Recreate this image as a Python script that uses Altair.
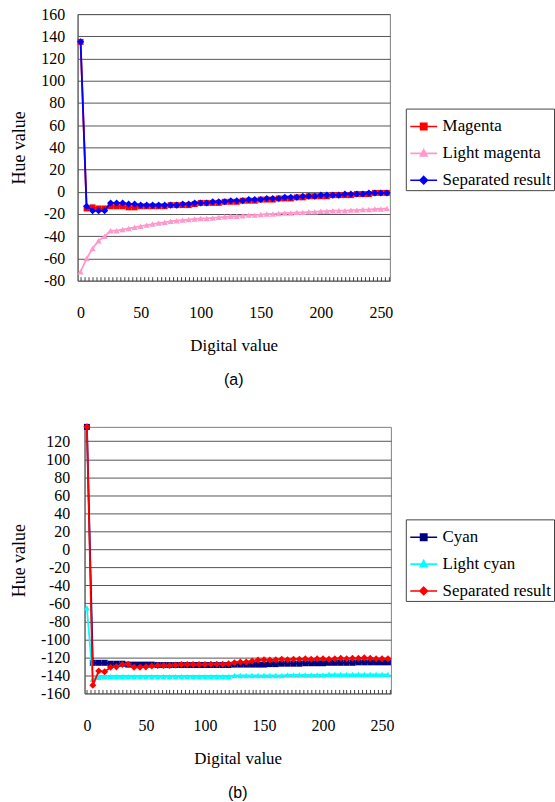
import altair as alt
import pandas as pd

# Digital input values, sampled every 5 steps
digital = list(range(0, 256, 5))

# Panel (a): magenta family
magenta_names = ["Magenta", "Light magenta", "Separated result"]
magenta = [135, -15, -14, -15, -15, -13, -13, -13, -14, -14,
           -13, -13, -13, -13, -13, -12, -12, -12, -12, -11,
           -10, -10, -10, -10, -9, -9, -9, -8, -8, -8,
           -7, -7, -7, -6, -6, -6, -5, -5, -4, -4,
           -4, -4, -3, -3, -3, -3, -2, -2, -2, -1,
           -1, -1]
light_magenta = [-72, -60, -51, -44, -40, -35, -35, -34, -33, -32,
                 -31, -30, -29, -28, -27.5, -26.5, -26, -25.5, -25, -24.5,
                 -24, -24, -23.5, -23, -22.5, -22, -22, -21.5, -21, -21,
                 -20.5, -20, -20, -19.5, -19, -19, -18.5, -18.5, -18, -18,
                 -17.5, -17.5, -17, -17, -17, -16.5, -16.5, -16, -16, -15.5,
                 -15.5, -15]
separated_a = [135, -13, -17, -17, -17, -10, -10, -10, -11, -11,
               -12, -12, -12, -12, -12, -12, -12, -11, -11, -10,
               -10, -10, -9, -9, -9, -8, -8, -8, -7, -7,
               -7, -6, -6, -6, -5, -5, -5, -4, -4, -4,
               -3, -3, -3, -3, -2, -2, -2, -2, -1, -1,
               -1, -1]

# Panel (b): cyan family
cyan_names = ["Cyan", "Light cyan", "Separated result"]
cyan = [136, -126, -126, -126, -127, -127, -127, -128, -128, -128,
        -128, -128, -128.5, -128.5, -128.5, -128.5, -128.5, -128.5, -128.5, -128.5,
        -128.5, -128.5, -128.5, -128.5, -128.5, -128, -128, -128, -128, -128,
        -128, -127.5, -127.5, -127, -127, -127, -127, -126.5, -126.5, -126.5,
        -126.5, -126, -126, -126, -126, -126, -125.5, -125.5, -125.5, -125.5,
        -125.5, -125.5]
light_cyan = [-65, -144, -142, -141.5, -141.5, -141.5, -141.5, -141.5, -141.5, -141.5,
              -141.5, -141.5, -141.5, -141.5, -141.5, -141.5, -141.5, -141.5, -141.5, -141.5,
              -141.5, -141.5, -141.5, -141.5, -141.5, -140, -140, -140, -140, -140,
              -140, -140, -140, -140, -139.5, -139.5, -139.5, -139.5, -139.5, -139.5,
              -139.5, -139, -139, -139, -139, -139, -139, -139, -139, -139,
              -139, -139]
separated_b = [136, -151, -135, -136, -131, -130.5, -128, -127.5, -131, -131,
               -130.5, -129.5, -129, -129, -129, -128.5, -128, -128, -128, -128,
               -128, -127.5, -127.5, -127.5, -127, -126, -125, -125, -124, -123,
               -122.5, -123, -122.5, -122, -122.5, -122, -122, -121.5, -122, -121.5,
               -121.5, -122, -121.5, -121, -121.5, -121, -121, -120.5, -121, -121.5,
               -121.5, -121.5]

# Minor tick positions along the x axis; labels only every 50
x_ticks = [round(i * 10 / 3, 3) for i in range(0, 78)]

SERIF = "Liberation Serif"

# Legend symbols: a short line segment with the series marker on it
SQUARE_KEY = "M-0.9,0H0.9M-0.21,-0.21H0.21V0.21H-0.21Z"
TRIANGLE_KEY = "M-0.9,0H0.9M0,-0.25L0.23,0.18H-0.23Z"
DIAMOND_KEY = "M-0.9,0H0.9M0,-0.25L0.25,0L0,0.25L-0.25,0Z"


def long_table(names, series):
    rows = []
    for name, values in zip(names, series):
        for d, v in zip(digital, values):
            rows.append({"digital": d, "hue": v, "series": name})
    return pd.DataFrame(rows)


def panel(names, series, colors, shapes, sizes, keys, xdomain, ydomain, yvalues,
          width, height, label, legend_x, legend_y, y_label_pad, field):
    df = long_table(names, series).rename(columns={"series": field})
    base = alt.Chart(df)
    x = alt.X(
        "digital:Q",
        title="Digital value",
        scale=alt.Scale(domain=xdomain, nice=False, zero=False),
        axis=alt.Axis(
            values=x_ticks,
            labelExpr="abs(datum.value - 50 * round(datum.value / 50)) < 0.01 ? '' + round(datum.value) : ''",
            offset=-4, domain=False, grid=False,
            ticks=True, tickSize=4, tickColor="#444", tickWidth=1,
            labelPadding=24, labelOverlap=False, labelFlush=False, labelBound=False,
            labelFont=SERIF, labelFontSize=16, labelColor="black",
            titleFont=SERIF, titleFontSize=17, titleFontWeight="normal",
            titleColor="black", titlePadding=17,
        ),
    )
    y = alt.Y(
        "hue:Q",
        title="Hue value",
        scale=alt.Scale(domain=ydomain, nice=False, zero=False),
        axis=alt.Axis(
            values=yvalues, grid=True, gridColor="#555", gridWidth=1,
            ticks=False, domain=True, domainColor="#555",
            labelExpr="'' + datum.value",
            labelPadding=y_label_pad, labelOverlap=False, labelFlush=False,
            labelFont=SERIF, labelFontSize=16, labelColor="black",
            titleFont=SERIF, titleFontSize=18, titleFontWeight="normal",
            titleColor="black", titlePadding=12,
        ),
    )

    layers = []
    for name, color, shape, size in zip(names, colors, shapes, sizes):
        sub = base.transform_filter(alt.FieldEqualPredicate(field=field, equal=name))
        layers.append(sub.mark_line(color=color, strokeWidth=1.8).encode(x=x, y=y))
        layers.append(
            sub.mark_point(shape=shape, filled=True, color=color, size=size,
                           opacity=1, clip=False).encode(x=x, y=y)
        )

    legend = alt.Legend(
        title=None, orient="none", legendX=legend_x, legendY=legend_y,
        direction="vertical", strokeColor="#444", padding=2,
        symbolSize=900, symbolStrokeWidth=1.6, symbolOpacity=1,
        labelFont=SERIF, labelFontSize=17, labelColor="black",
        labelOffset=3, rowPadding=3,
    )
    key_layer = base.transform_filter("datum.digital < -100").mark_point(
        filled=True, opacity=1
    ).encode(
        x=x, y=y,
        color=alt.Color(f"{field}:N", scale=alt.Scale(domain=names, range=colors), legend=legend),
        stroke=alt.Stroke(f"{field}:N", scale=alt.Scale(domain=names, range=colors), legend=legend),
        shape=alt.Shape(f"{field}:N", scale=alt.Scale(domain=names, range=keys), legend=legend),
    )
    layers.append(key_layer)

    layered = alt.layer(*layers).properties(
        width=width, height=height,
        title=alt.TitleParams(
            label, orient="bottom", anchor="middle", frame="group",
            font="Liberation Sans", fontSize=16, fontWeight="normal",
            color="black", offset=19,
        ),
    )
    # A blank one-pixel column in front keeps each panel's own axis width
    gutter = alt.Chart(pd.DataFrame({"g": [0]})).mark_point(opacity=0).properties(
        width=1, height=1, view=alt.ViewBackground(stroke="transparent")
    )
    return alt.hconcat(gutter, layered, spacing=2)


chart_a = panel(
    magenta_names, [magenta, light_magenta, separated_a],
    ["#FF0000", "#FF99CC", "#0000FF"],
    ["square", "triangle-up", "diamond"], [36, 40, 50],
    [SQUARE_KEY, TRIANGLE_KEY, DIAMOND_KEY],
    [-2.5, 257.5], [-80, 160], list(range(-80, 161, 20)),
    314, 268, "(a)", 404, 95, 13, "magenta_series",
)

chart_b = panel(
    cyan_names, [cyan, light_cyan, separated_b],
    ["#000080", "#00FFFF", "#FF0000"],
    ["square", "triangle-up", "diamond"], [36, 40, 50],
    [SQUARE_KEY, TRIANGLE_KEY, DIAMOND_KEY],
    [-2, 257.5], [-160, 136], list(range(-160, 121, 20)),
    308, 268, "(b)", 404, 93, 15, "cyan_series",
)

chart = alt.vconcat(chart_a, chart_b, spacing=33).resolve_scale(
    color="independent", stroke="independent", shape="independent",
    x="independent", y="independent",
).resolve_legend(
    color="independent", stroke="independent", shape="independent",
).properties(
    padding={"left": 1, "top": 3, "right": 0, "bottom": 0},
    background="white",
).configure_view(stroke="#808080", strokeWidth=1).configure_axis(
    labelFont=SERIF, titleFont=SERIF
)

chart.save("out.html", embed_options={"renderer": "svg", "actions": False})
